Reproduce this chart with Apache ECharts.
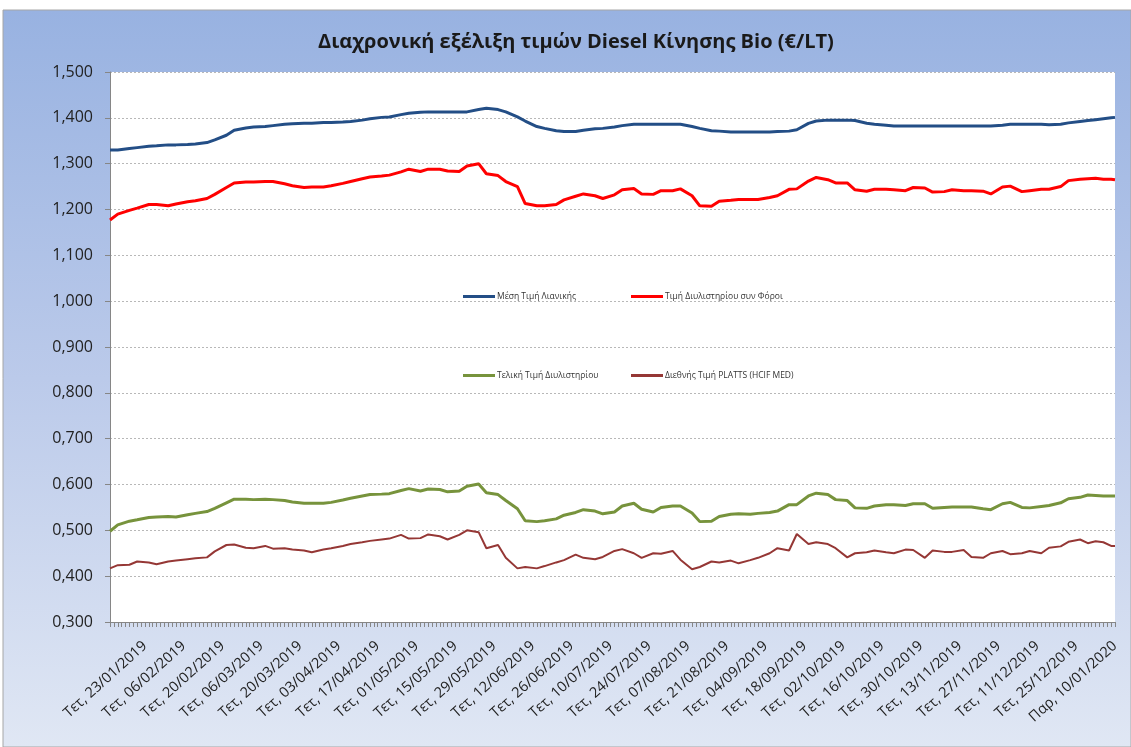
<!DOCTYPE html>
<html>
<head>
<meta charset="utf-8">
<script src="https://cdn.jsdelivr.net/npm/echarts/dist/echarts.min.js"></script>
<style>
  html, body { margin: 0; padding: 0; background: #fff; }
  #chart { width: 1131px; height: 747px; }
</style>
</head>
<body>
<div id="chart"></div>
<script>
// ημερομηνίες άξονα: εργάσιμες από 10/01/2019 έως 10/01/2020
const startDate = '10/01/2019';
const endDate = '10/01/2020';
const holidays = ['01/01/2020', '06/01/2020'];
const dayNames = ['Κυρ', 'Δευ', 'Τρι', 'Τετ', 'Πεμ', 'Παρ', 'Σαβ'];

// ετικέτες που εμφανίζονται στον άξονα Χ
const tickLabels = ['23/01/2019', '06/02/2019', '20/02/2019', '06/03/2019', '20/03/2019', '03/04/2019',
  '17/04/2019', '01/05/2019', '15/05/2019', '29/05/2019', '12/06/2019', '26/06/2019', '10/07/2019',
  '24/07/2019', '07/08/2019', '21/08/2019', '04/09/2019', '18/09/2019', '02/10/2019', '16/10/2019',
  '30/10/2019', '13/11/2019', '27/11/2019', '11/12/2019', '25/12/2019', '10/01/2020'];

// ημερομηνίες των τιμών (Δευτέρα και Πέμπτη κάθε εβδομάδας)
const sampleDates = ['10/01/2019','14/01/2019','17/01/2019','21/01/2019','24/01/2019','28/01/2019','31/01/2019','04/02/2019',
  '07/02/2019','11/02/2019','14/02/2019','18/02/2019','21/02/2019','25/02/2019','28/02/2019','04/03/2019',
  '07/03/2019','11/03/2019','14/03/2019','18/03/2019','21/03/2019','25/03/2019','28/03/2019','01/04/2019',
  '04/04/2019','08/04/2019','11/04/2019','15/04/2019','18/04/2019','22/04/2019','25/04/2019','29/04/2019',
  '02/05/2019','06/05/2019','09/05/2019','13/05/2019','16/05/2019','20/05/2019','23/05/2019','27/05/2019',
  '30/05/2019','03/06/2019','06/06/2019','10/06/2019','13/06/2019','17/06/2019','20/06/2019','24/06/2019',
  '27/06/2019','01/07/2019','04/07/2019','08/07/2019','11/07/2019','15/07/2019','18/07/2019','22/07/2019',
  '25/07/2019','29/07/2019','01/08/2019','05/08/2019','08/08/2019','12/08/2019','15/08/2019','19/08/2019',
  '22/08/2019','26/08/2019','29/08/2019','02/09/2019','05/09/2019','09/09/2019','12/09/2019','16/09/2019',
  '19/09/2019','23/09/2019','26/09/2019','30/09/2019','03/10/2019','07/10/2019','10/10/2019','14/10/2019',
  '17/10/2019','21/10/2019','24/10/2019','28/10/2019','31/10/2019','04/11/2019','07/11/2019','11/11/2019',
  '14/11/2019','18/11/2019','21/11/2019','25/11/2019','28/11/2019','02/12/2019','05/12/2019','09/12/2019',
  '12/12/2019','16/12/2019','19/12/2019','23/12/2019','26/12/2019','30/12/2019','02/01/2020','07/01/2020',
  '09/01/2020','10/01/2020'];

// Μέση Τιμή Λιανικής
const retail = [1.330,1.330,1.333,1.335,1.338,1.339,1.341,1.341,
  1.342,1.343,1.346,1.352,1.362,1.373,1.378,1.380,
  1.381,1.383,1.386,1.387,1.388,1.388,1.390,1.390,
  1.391,1.392,1.395,1.398,1.401,1.402,1.407,1.410,
  1.412,1.413,1.413,1.413,1.413,1.413,1.418,1.421,
  1.418,1.413,1.402,1.393,1.381,1.377,1.372,1.370,
  1.370,1.373,1.376,1.377,1.380,1.383,1.386,1.386,
  1.386,1.386,1.386,1.386,1.381,1.377,1.372,1.371,
  1.369,1.369,1.369,1.369,1.369,1.370,1.371,1.374,
  1.388,1.393,1.395,1.395,1.395,1.394,1.388,1.386,
  1.384,1.382,1.382,1.382,1.382,1.382,1.382,1.382,
  1.382,1.382,1.382,1.382,1.384,1.386,1.386,1.386,
  1.386,1.385,1.386,1.389,1.392,1.394,1.396,1.398,
  1.400,1.401];

// Τιμή Διυλιστηρίου συν Φόροι
const refineryTax = [1.177,1.190,1.198,1.203,1.211,1.211,1.208,1.212,
  1.217,1.219,1.224,1.233,1.248,1.258,1.260,1.260,
  1.261,1.261,1.256,1.252,1.248,1.249,1.249,1.252,
  1.257,1.261,1.267,1.271,1.273,1.275,1.282,1.288,
  1.283,1.288,1.288,1.284,1.283,1.295,1.300,1.278,
  1.274,1.261,1.250,1.213,1.208,1.208,1.211,1.221,
  1.229,1.234,1.230,1.224,1.232,1.243,1.246,1.234,
  1.233,1.241,1.241,1.245,1.230,1.208,1.207,1.218,
  1.220,1.222,1.222,1.222,1.226,1.230,1.244,1.245,
  1.262,1.270,1.265,1.258,1.258,1.243,1.240,1.244,
  1.244,1.243,1.241,1.248,1.247,1.238,1.239,1.243,
  1.241,1.241,1.240,1.234,1.249,1.251,1.239,1.241,
  1.244,1.244,1.250,1.263,1.266,1.267,1.268,1.266,
  1.266,1.265];

// Τελική Τιμή Διυλιστηρίου
const refineryFinal = [0.498,0.512,0.520,0.523,0.528,0.529,0.530,0.529,
  0.534,0.537,0.541,0.548,0.560,0.568,0.568,0.567,
  0.568,0.567,0.565,0.562,0.559,0.559,0.559,0.561,
  0.566,0.570,0.575,0.578,0.579,0.580,0.587,0.591,
  0.586,0.590,0.589,0.584,0.586,0.596,0.601,0.582,
  0.578,0.565,0.547,0.521,0.519,0.521,0.525,0.533,
  0.539,0.545,0.542,0.536,0.540,0.553,0.559,0.546,
  0.540,0.550,0.553,0.553,0.538,0.519,0.520,0.530,
  0.535,0.536,0.535,0.537,0.539,0.542,0.556,0.556,
  0.575,0.581,0.578,0.567,0.565,0.549,0.548,0.553,
  0.556,0.556,0.554,0.558,0.558,0.548,0.550,0.551,
  0.551,0.551,0.547,0.545,0.558,0.561,0.550,0.549,
  0.552,0.554,0.560,0.569,0.572,0.577,0.576,0.575,
  0.575,0.575];

// Διεθνής Τιμή PLATTS (HCIF MED)
const platts = [0.417,0.424,0.425,0.432,0.430,0.426,0.432,0.434,
  0.437,0.439,0.441,0.454,0.468,0.469,0.462,0.461,
  0.466,0.460,0.461,0.458,0.456,0.452,0.458,0.461,
  0.466,0.470,0.474,0.477,0.480,0.482,0.490,0.482,
  0.483,0.491,0.487,0.480,0.490,0.500,0.496,0.461,
  0.468,0.440,0.417,0.420,0.417,0.422,0.430,0.435,
  0.447,0.440,0.437,0.442,0.455,0.459,0.450,0.440,
  0.450,0.449,0.455,0.436,0.415,0.420,0.432,0.430,
  0.434,0.428,0.435,0.440,0.450,0.461,0.456,0.492,
  0.470,0.474,0.470,0.461,0.441,0.450,0.452,0.456,
  0.452,0.450,0.458,0.457,0.440,0.456,0.453,0.453,
  0.457,0.442,0.440,0.450,0.455,0.448,0.450,0.455,
  0.450,0.462,0.465,0.475,0.480,0.472,0.476,0.474,
  0.466,0.466];

const seriesNames = ['Μέση Τιμή Λιανικής', 'Τιμή Διυλιστηρίου συν Φόροι', 'Τελική Τιμή Διυλιστηρίου', 'Διεθνής Τιμή PLATTS (HCIF MED)'];
const seriesColors = ['#234e86', '#ff0000', '#77933c', '#953735'];

function parseDate(s) {
  const p = s.split('/');
  return new Date(+p[2], +p[1] - 1, +p[0]);
}
function fmtDate(d) {
  const dd = String(d.getDate()).padStart(2, '0');
  const mm = String(d.getMonth() + 1).padStart(2, '0');
  return dd + '/' + mm + '/' + d.getFullYear();
}

// λίστα κατηγοριών (μόνο εργάσιμες)
const categories = [];
for (let d = parseDate(startDate); d <= parseDate(endDate); d.setDate(d.getDate() + 1)) {
  const wd = d.getDay();
  const s = fmtDate(d);
  if (wd !== 0 && wd !== 6 && holidays.indexOf(s) < 0) categories.push(s);
}

function pairs(values) {
  return sampleDates.map((d, i) => [d, values[i]]);
}

const chart = echarts.init(document.getElementById('chart'));

const fontFamily = 'Open Sans, Noto Sans, sans-serif';

function legendAt(name, left, top) {
  return {
    data: [name],
    left: left,
    top: top,
    padding: 0,
    itemWidth: 32,
    itemHeight: 3,
    icon: 'rect',
    selectedMode: false,
    textStyle: { fontSize: 8.5, color: '#333', fontFamily: fontFamily, padding: [0, 0, 0, -3] }
  };
}

const lineWidths = [3, 3, 3, 2];

chart.setOption({
  backgroundColor: '#ffffff',
  animation: false,
  graphic: [{
    type: 'rect',
    z: -10,
    shape: { x: 3, y: 10, width: 1128, height: 737 },
    style: {
      fill: new echarts.graphic.LinearGradient(0, 0, 0, 1, [
        { offset: 0, color: '#98b2e1' },
        { offset: 0.5, color: '#bbcaea' },
        { offset: 1, color: '#e0e7f4' }
      ]),
      stroke: '#a6a6a6',
      lineWidth: 1
    }
  }],
  title: {
    text: 'Διαχρονική εξέλιξη τιμών Diesel Κίνησης Bio (€/LT)',
    left: 313,
    top: 27,
    textStyle: { fontSize: 20, fontWeight: 'bold', color: '#1a1a1a', fontFamily: fontFamily }
  },
  legend: [
    legendAt(seriesNames[0], 463, 292),
    legendAt(seriesNames[1], 631, 292),
    legendAt(seriesNames[2], 463, 371),
    legendAt(seriesNames[3], 631, 371)
  ],
  grid: {
    left: 110,
    right: 16,
    top: 72,
    bottom: 125,
    show: true,
    backgroundColor: '#ffffff',
    borderWidth: 0
  },
  xAxis: {
    type: 'category',
    data: categories,
    boundaryGap: false,
    axisLine: { lineStyle: { color: '#868686', width: 1 } },
    axisTick: { show: true, interval: 0, length: 5, lineStyle: { color: '#868686' } },
    axisLabel: {
      interval: (index, value) => tickLabels.indexOf(value) >= 0,
      rotate: 42,
      margin: 22,
      fontSize: 14.5,
      color: '#222',
      fontFamily: fontFamily,
      formatter: (value) => dayNames[parseDate(value).getDay()] + ', ' + value
    },
    splitLine: { show: false }
  },
  yAxis: {
    type: 'value',
    min: 0.3,
    max: 1.5,
    interval: 0.1,
    axisLine: { show: true, lineStyle: { color: '#868686', width: 1 } },
    axisTick: { show: true, length: 5, lineStyle: { color: '#868686' } },
    axisLabel: {
      margin: 17,
      fontSize: 16,
      color: '#222',
      fontFamily: fontFamily,
      formatter: (v) => v.toFixed(3).replace('.', ',')
    },
    splitLine: { lineStyle: { color: '#b8b8b8', type: [2, 2], width: 1 } }
  },
  series: [retail, refineryTax, refineryFinal, platts].map((vals, i) => ({
    name: seriesNames[i],
    type: 'line',
    data: pairs(vals),
    symbol: 'none',
    showSymbol: false,
    color: seriesColors[i],
    lineStyle: { width: lineWidths[i], color: seriesColors[i] },
    z: 4 - i
  }))
});
</script>
</body>
</html>
